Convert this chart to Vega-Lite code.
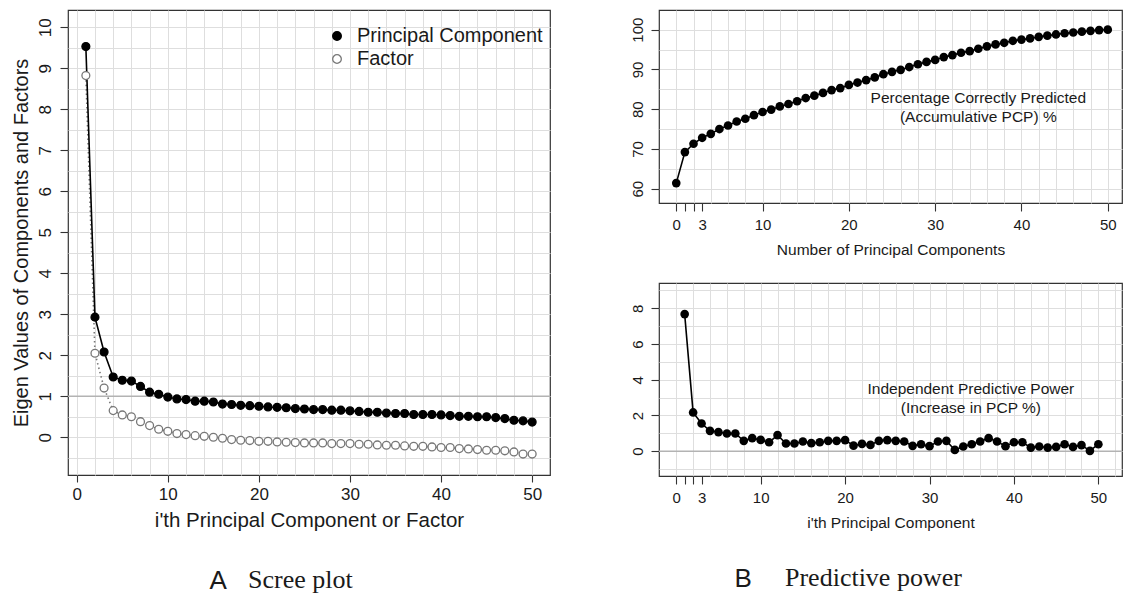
{
  "$schema": "https://vega.github.io/schema/vega-lite/v6.json",
  "background": "white",
  "padding": {"left": 10, "top": 9, "right": 0, "bottom": 0},
  "config": {
    "font": "Liberation Sans",
    "view": {"stroke": "#333333", "strokeWidth": 1.2},
    "axis": {"domain": false, "labelFont": "Liberation Sans", "titleFont": "Liberation Sans", "labelColor": "#1a1a1a", "titleColor": "#1a1a1a", "tickColor": "#333333", "tickWidth": 1.1, "titleFontWeight": "normal", "gridColor": "#dedede", "gridWidth": 1},
    "title": {"color": "#1a1a1a", "fontWeight": "normal"}
  },
  "datasets": {
    "scree": [
      {"i":1,"value":9.53,"series":"Principal Component"},{"i":2,"value":2.93,"series":"Principal Component"},{"i":3,"value":2.08,"series":"Principal Component"},{"i":4,"value":1.47,"series":"Principal Component"},{"i":5,"value":1.39,"series":"Principal Component"},{"i":6,"value":1.37,"series":"Principal Component"},{"i":7,"value":1.24,"series":"Principal Component"},{"i":8,"value":1.10,"series":"Principal Component"},{"i":9,"value":1.05,"series":"Principal Component"},{"i":10,"value":0.98,"series":"Principal Component"},
      {"i":11,"value":0.935,"series":"Principal Component"},{"i":12,"value":0.92,"series":"Principal Component"},{"i":13,"value":0.88,"series":"Principal Component"},{"i":14,"value":0.88,"series":"Principal Component"},{"i":15,"value":0.86,"series":"Principal Component"},{"i":16,"value":0.81,"series":"Principal Component"},{"i":17,"value":0.80,"series":"Principal Component"},{"i":18,"value":0.78,"series":"Principal Component"},{"i":19,"value":0.77,"series":"Principal Component"},{"i":20,"value":0.756,"series":"Principal Component"},
      {"i":21,"value":0.74,"series":"Principal Component"},{"i":22,"value":0.73,"series":"Principal Component"},{"i":23,"value":0.72,"series":"Principal Component"},{"i":24,"value":0.70,"series":"Principal Component"},{"i":25,"value":0.69,"series":"Principal Component"},{"i":26,"value":0.675,"series":"Principal Component"},{"i":27,"value":0.675,"series":"Principal Component"},{"i":28,"value":0.66,"series":"Principal Component"},{"i":29,"value":0.66,"series":"Principal Component"},{"i":30,"value":0.645,"series":"Principal Component"},
      {"i":31,"value":0.63,"series":"Principal Component"},{"i":32,"value":0.61,"series":"Principal Component"},{"i":33,"value":0.61,"series":"Principal Component"},{"i":34,"value":0.59,"series":"Principal Component"},{"i":35,"value":0.58,"series":"Principal Component"},{"i":36,"value":0.58,"series":"Principal Component"},{"i":37,"value":0.555,"series":"Principal Component"},{"i":38,"value":0.555,"series":"Principal Component"},{"i":39,"value":0.555,"series":"Principal Component"},{"i":40,"value":0.545,"series":"Principal Component"},
      {"i":41,"value":0.53,"series":"Principal Component"},{"i":42,"value":0.51,"series":"Principal Component"},{"i":43,"value":0.51,"series":"Principal Component"},{"i":44,"value":0.50,"series":"Principal Component"},{"i":45,"value":0.50,"series":"Principal Component"},{"i":46,"value":0.48,"series":"Principal Component"},{"i":47,"value":0.455,"series":"Principal Component"},{"i":48,"value":0.415,"series":"Principal Component"},{"i":49,"value":0.40,"series":"Principal Component"},{"i":50,"value":0.37,"series":"Principal Component"},
      {"i":1,"value":8.82,"series":"Factor"},{"i":2,"value":2.05,"series":"Factor"},{"i":3,"value":1.20,"series":"Factor"},{"i":4,"value":0.65,"series":"Factor"},{"i":5,"value":0.545,"series":"Factor"},{"i":6,"value":0.50,"series":"Factor"},{"i":7,"value":0.38,"series":"Factor"},{"i":8,"value":0.285,"series":"Factor"},{"i":9,"value":0.195,"series":"Factor"},{"i":10,"value":0.146,"series":"Factor"},
      {"i":11,"value":0.09,"series":"Factor"},{"i":12,"value":0.065,"series":"Factor"},{"i":13,"value":0.04,"series":"Factor"},{"i":14,"value":0.024,"series":"Factor"},{"i":15,"value":0.0,"series":"Factor"},{"i":16,"value":-0.024,"series":"Factor"},{"i":17,"value":-0.057,"series":"Factor"},{"i":18,"value":-0.073,"series":"Factor"},{"i":19,"value":-0.08,"series":"Factor"},{"i":20,"value":-0.098,"series":"Factor"},
      {"i":21,"value":-0.098,"series":"Factor"},{"i":22,"value":-0.114,"series":"Factor"},{"i":23,"value":-0.122,"series":"Factor"},{"i":24,"value":-0.13,"series":"Factor"},{"i":25,"value":-0.138,"series":"Factor"},{"i":26,"value":-0.138,"series":"Factor"},{"i":27,"value":-0.138,"series":"Factor"},{"i":28,"value":-0.154,"series":"Factor"},{"i":29,"value":-0.154,"series":"Factor"},{"i":30,"value":-0.154,"series":"Factor"},
      {"i":31,"value":-0.17,"series":"Factor"},{"i":32,"value":-0.17,"series":"Factor"},{"i":33,"value":-0.187,"series":"Factor"},{"i":34,"value":-0.195,"series":"Factor"},{"i":35,"value":-0.195,"series":"Factor"},{"i":36,"value":-0.21,"series":"Factor"},{"i":37,"value":-0.22,"series":"Factor"},{"i":38,"value":-0.22,"series":"Factor"},{"i":39,"value":-0.236,"series":"Factor"},{"i":40,"value":-0.25,"series":"Factor"},
      {"i":41,"value":-0.25,"series":"Factor"},{"i":42,"value":-0.276,"series":"Factor"},{"i":43,"value":-0.285,"series":"Factor"},{"i":44,"value":-0.30,"series":"Factor"},{"i":45,"value":-0.317,"series":"Factor"},{"i":46,"value":-0.317,"series":"Factor"},{"i":47,"value":-0.33,"series":"Factor"},{"i":48,"value":-0.357,"series":"Factor"},{"i":49,"value":-0.41,"series":"Factor"},{"i":50,"value":-0.41,"series":"Factor"}
    ],
    "pcp": [
      {"k":0,"pcp":61.4},{"k":1,"pcp":69.2},{"k":2,"pcp":71.3},{"k":3,"pcp":72.8},{"k":4,"pcp":73.8},{"k":5,"pcp":75.0},{"k":6,"pcp":75.9},{"k":7,"pcp":76.9},{"k":8,"pcp":77.6},{"k":9,"pcp":78.5},{"k":10,"pcp":79.3},
      {"k":11,"pcp":79.9},{"k":12,"pcp":80.7},{"k":13,"pcp":81.3},{"k":14,"pcp":82.0},{"k":15,"pcp":82.8},{"k":16,"pcp":83.4},{"k":17,"pcp":84.1},{"k":18,"pcp":84.8},{"k":19,"pcp":85.3},{"k":20,"pcp":86.1},
      {"k":21,"pcp":86.7},{"k":22,"pcp":87.3},{"k":23,"pcp":88.0},{"k":24,"pcp":88.8},{"k":25,"pcp":89.4},{"k":26,"pcp":89.9},{"k":27,"pcp":90.6},{"k":28,"pcp":91.3},{"k":29,"pcp":91.9},{"k":30,"pcp":92.4},
      {"k":31,"pcp":93.1},{"k":32,"pcp":93.6},{"k":33,"pcp":94.2},{"k":34,"pcp":94.6},{"k":35,"pcp":95.2},{"k":36,"pcp":95.8},{"k":37,"pcp":96.3},{"k":38,"pcp":96.7},{"k":39,"pcp":97.2},{"k":40,"pcp":97.5},
      {"k":41,"pcp":97.8},{"k":42,"pcp":98.2},{"k":43,"pcp":98.5},{"k":44,"pcp":98.8},{"k":45,"pcp":99.1},{"k":46,"pcp":99.3},{"k":47,"pcp":99.5},{"k":48,"pcp":99.7},{"k":49,"pcp":99.9},{"k":50,"pcp":100.0}
    ],
    "ipp": [
      {"i":1,"inc":7.68},{"i":2,"inc":2.17},{"i":3,"inc":1.55},{"i":4,"inc":1.14},{"i":5,"inc":1.07},{"i":6,"inc":0.99},{"i":7,"inc":0.99},{"i":8,"inc":0.58},{"i":9,"inc":0.73},{"i":10,"inc":0.63},
      {"i":11,"inc":0.50},{"i":12,"inc":0.90},{"i":13,"inc":0.43},{"i":14,"inc":0.43},{"i":15,"inc":0.54},{"i":16,"inc":0.45},{"i":17,"inc":0.50},{"i":18,"inc":0.58},{"i":19,"inc":0.58},{"i":20,"inc":0.62},
      {"i":21,"inc":0.31},{"i":22,"inc":0.41},{"i":23,"inc":0.35},{"i":24,"inc":0.58},{"i":25,"inc":0.62},{"i":26,"inc":0.58},{"i":27,"inc":0.54},{"i":28,"inc":0.30},{"i":29,"inc":0.39},{"i":30,"inc":0.28},
      {"i":31,"inc":0.54},{"i":32,"inc":0.58},{"i":33,"inc":0.07},{"i":34,"inc":0.26},{"i":35,"inc":0.39},{"i":36,"inc":0.54},{"i":37,"inc":0.73},{"i":38,"inc":0.54},{"i":39,"inc":0.28},{"i":40,"inc":0.50},
      {"i":41,"inc":0.50},{"i":42,"inc":0.20},{"i":43,"inc":0.26},{"i":44,"inc":0.20},{"i":45,"inc":0.24},{"i":46,"inc":0.39},{"i":47,"inc":0.24},{"i":48,"inc":0.34},{"i":49,"inc":0.02},{"i":50,"inc":0.39}
    ]
  },
  "spacing": 77,
  "hconcat": [
    {
      "title": {"text": "A", "orient": "bottom", "anchor": "start", "font": "Liberation Sans", "fontSize": 26, "offset": 0, "dx": 199, "dy": -25},
      "vconcat": [
        {
          "width": 482,
          "height": 465,
          "title": {"text": "Scree plot", "orient": "bottom", "anchor": "start", "font": "Liberation Serif", "fontSize": 26, "offset": 36, "dx": 237},
          "data": {"name": "scree"},
          "resolve": {"axis": {"x": "independent", "y": "independent"}},
          "layer": [
            {
              "mark": {"type": "point", "opacity": 0},
              "encoding": {
                "x": {"field": "i", "type": "quantitative", "scale": {"domain": [-0.96, 51.96], "nice": false, "zero": false},
                      "axis": {"orient": "top", "values": [0,2,4,6,8,10,12,14,16,18,20,22,24,26,28,30,32,34,36,38,40,42,44,46,48,50], "grid": true, "labels": false, "ticks": false, "domain": false, "title": null}},
                "y": {"field": "value", "type": "quantitative", "scale": {"domain": [-0.92, 10.42], "nice": false, "zero": false},
                      "axis": {"orient": "right", "values": [-0.5,0,0.5,1,1.5,2,2.5,3,3.5,4,4.5,5,5.5,6,6.5,7,7.5,8,8.5,9,9.5,10], "grid": true, "labels": false, "ticks": false, "domain": false, "title": null}}
              }
            },
            {
              "data": {"values": [{"ref": 1}]},
              "mark": {"type": "rule", "color": "#b3b3b3", "strokeWidth": 1.6},
              "encoding": {"y": {"field": "ref", "type": "quantitative", "axis": null}}
            },
            {
              "transform": [{"filter": "datum.series === 'Factor'"}],
              "mark": {"type": "line", "color": "#777777", "strokeWidth": 1.6, "strokeDash": [1.5, 3]},
              "encoding": {"x": {"field": "i", "type": "quantitative", "axis": null}, "y": {"field": "value", "type": "quantitative", "axis": null}}
            },
            {
              "transform": [{"filter": "datum.series === 'Principal Component'"}],
              "mark": {"type": "line", "color": "#000000", "strokeWidth": 1.6},
              "encoding": {"x": {"field": "i", "type": "quantitative", "axis": null}, "y": {"field": "value", "type": "quantitative", "axis": null}}
            },
            {
              "mark": {"type": "point", "shape": "circle", "size": 62, "strokeWidth": 1.3, "opacity": 1},
              "encoding": {
                "x": {"field": "i", "type": "quantitative",
                      "axis": {"orient": "bottom", "values": [0,10,20,30,40,50], "grid": false, "tickSize": 7, "labelFontSize": 17, "labelPadding": 4, "title": "i'th Principal Component or Factor", "titleFontSize": 20.5, "titlePadding": 8}},
                "y": {"field": "value", "type": "quantitative",
                      "axis": {"orient": "left", "values": [0,1,2,3,4,5,6,7,8,9,10], "grid": false, "tickSize": 8, "labelFontSize": 17, "labelAngle": 270, "labelAlign": "center", "labelBaseline": "alphabetic", "labelPadding": 10, "title": "Eigen Values of Components and Factors", "titleFontSize": 20, "titlePadding": 5}},
                "fill": {"field": "series", "type": "nominal", "scale": {"domain": ["Principal Component", "Factor"], "range": ["#000000", "#ffffff"]},
                         "legend": {"orient": "none", "legendX": 259, "legendY": 16, "title": null, "labelFontSize": 20, "labelLimit": 0, "labelColor": "#1a1a1a", "symbolSize": 75, "symbolStrokeWidth": 1.3, "symbolType": "circle", "labelOffset": 10, "rowPadding": 3, "padding": 0}},
                "stroke": {"field": "series", "type": "nominal", "scale": {"domain": ["Principal Component", "Factor"], "range": ["#000000", "#777777"]},
                         "legend": {"orient": "none", "legendX": 259, "legendY": 16, "title": null, "labelFontSize": 20, "labelLimit": 0, "labelColor": "#1a1a1a", "symbolSize": 75, "symbolStrokeWidth": 1.3, "symbolType": "circle", "labelOffset": 10, "rowPadding": 3, "padding": 0}}
              }
            }
          ]
        }
      ]
    },
    {
      "title": {"text": "B", "orient": "bottom", "anchor": "start", "font": "Liberation Sans", "fontSize": 26, "offset": 0, "dx": 105, "dy": -25},
      "bounds": "flush",
      "spacing": 80,
      "vconcat": [
        {
          "width": 463,
          "height": 193,
          "data": {"name": "pcp"},
          "resolve": {"axis": {"x": "independent", "y": "independent"}},
          "layer": [
            {
              "mark": {"type": "point", "opacity": 0},
              "encoding": {
                "x": {"field": "k", "type": "quantitative", "scale": {"domain": [-2, 51.65], "nice": false, "zero": false},
                      "axis": {"orient": "top", "values": [0,2,4,6,8,10,12,14,16,18,20,22,24,26,28,30,32,34,36,38,40,42,44,46,48,50], "grid": true, "labels": false, "ticks": false, "domain": false, "title": null}},
                "y": {"field": "pcp", "type": "quantitative", "scale": {"domain": [56.4, 104.95], "nice": false, "zero": false},
                      "axis": {"orient": "right", "values": [60,65,70,75,80,85,90,95,100], "grid": true, "labels": false, "ticks": false, "domain": false, "title": null}}
              }
            },
            {
              "mark": {"type": "line", "color": "#000000", "strokeWidth": 1.6},
              "encoding": {"x": {"field": "k", "type": "quantitative", "axis": null}, "y": {"field": "pcp", "type": "quantitative", "axis": null}}
            },
            {
              "mark": {"type": "circle", "size": 75, "color": "#000000", "opacity": 1},
              "encoding": {
                "x": {"field": "k", "type": "quantitative",
                      "axis": {"orient": "bottom", "values": [0,1,2,3,10,20,30,40,50], "labelExpr": "datum.value == 1 || datum.value == 2 ? '' : datum.label", "grid": false, "tickSize": 8, "labelFontSize": 15, "labelPadding": 6, "title": "Number of Principal Components", "titleFontSize": 15.5, "titlePadding": 10}},
                "y": {"field": "pcp", "type": "quantitative",
                      "axis": {"orient": "left", "values": [60,70,80,90,100], "grid": false, "tickSize": 8, "labelFontSize": 15, "labelAngle": 270, "labelAlign": "center", "labelBaseline": "alphabetic", "labelPadding": 9, "title": null}}
              }
            },
            {
              "data": {"values": [{"x": 35, "y": 82.7, "label": "Percentage Correctly Predicted\n(Accumulative PCP) %"}]},
              "mark": {"type": "text", "fontSize": 15.5, "lineHeight": 19, "lineBreak": "\n", "align": "center", "baseline": "middle", "color": "#1a1a1a"},
              "encoding": {"x": {"field": "x", "type": "quantitative", "axis": null}, "y": {"field": "y", "type": "quantitative", "axis": null}, "text": {"field": "label"}}
            }
          ]
        },
        {
          "width": 463,
          "height": 193,
          "title": {"text": "Predictive power", "orient": "bottom", "anchor": "start", "font": "Liberation Serif", "fontSize": 26, "offset": 34, "dx": 155},
          "data": {"name": "ipp"},
          "resolve": {"axis": {"x": "independent", "y": "independent"}},
          "layer": [
            {
              "mark": {"type": "point", "opacity": 0},
              "encoding": {
                "x": {"field": "i", "type": "quantitative", "scale": {"domain": [-2.04, 52.8], "nice": false, "zero": false},
                      "axis": {"orient": "top", "values": [0,2,4,6,8,10,12,14,16,18,20,22,24,26,28,30,32,34,36,38,40,42,44,46,48,50,52], "grid": true, "labels": false, "ticks": false, "domain": false, "title": null}},
                "y": {"field": "inc", "type": "quantitative", "scale": {"domain": [-1.39, 9.42], "nice": false, "zero": false},
                      "axis": {"orient": "right", "values": [-1,0,1,2,3,4,5,6,7,8,9], "grid": true, "labels": false, "ticks": false, "domain": false, "title": null}}
              }
            },
            {
              "data": {"values": [{"ref": 0}]},
              "mark": {"type": "rule", "color": "#b3b3b3", "strokeWidth": 1.6},
              "encoding": {"y": {"field": "ref", "type": "quantitative", "axis": null}}
            },
            {
              "mark": {"type": "line", "color": "#000000", "strokeWidth": 1.6},
              "encoding": {"x": {"field": "i", "type": "quantitative", "axis": null}, "y": {"field": "inc", "type": "quantitative", "axis": null}}
            },
            {
              "mark": {"type": "circle", "size": 75, "color": "#000000", "opacity": 1},
              "encoding": {
                "x": {"field": "i", "type": "quantitative",
                      "axis": {"orient": "bottom", "values": [0,1,2,3,10,20,30,40,50], "labelExpr": "datum.value == 1 || datum.value == 2 ? '' : datum.label", "grid": false, "tickSize": 8, "labelFontSize": 15, "labelPadding": 6, "title": "i'th Principal Component", "titleFontSize": 15.5, "titlePadding": 10}},
                "y": {"field": "inc", "type": "quantitative",
                      "axis": {"orient": "left", "values": [0,2,4,6,8], "grid": false, "tickSize": 8, "labelFontSize": 15, "labelAngle": 270, "labelAlign": "center", "labelBaseline": "alphabetic", "labelPadding": 9, "title": null}}
              }
            },
            {
              "data": {"values": [{"x": 34.9, "y": 3.5, "label": "Independent Predictive Power\n(Increase in PCP %)"}]},
              "mark": {"type": "text", "fontSize": 15.5, "lineHeight": 19, "lineBreak": "\n", "align": "center", "baseline": "middle", "color": "#1a1a1a"},
              "encoding": {"x": {"field": "x", "type": "quantitative", "axis": null}, "y": {"field": "y", "type": "quantitative", "axis": null}, "text": {"field": "label"}}
            }
          ]
        }
      ]
    }
  ]
}
